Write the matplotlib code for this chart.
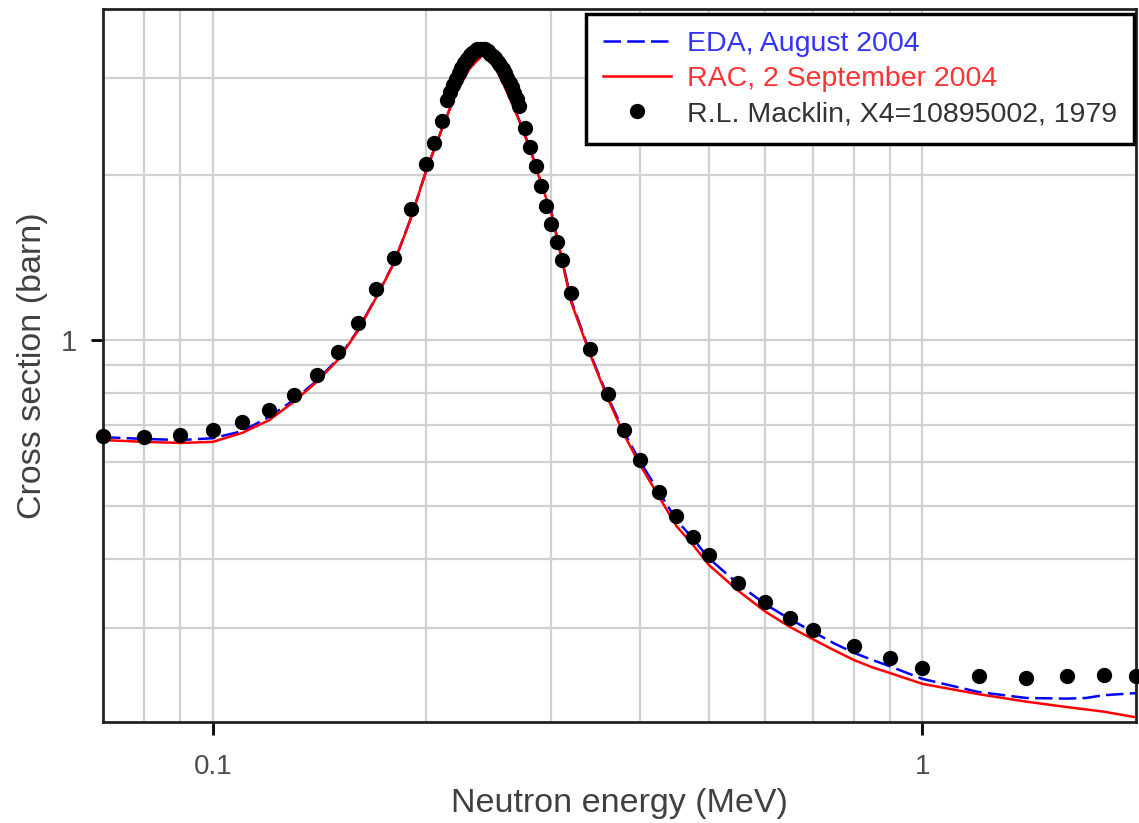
import matplotlib
matplotlib.use("Agg")
import matplotlib.pyplot as plt
from matplotlib.ticker import LogLocator, FixedLocator, NullFormatter, FixedFormatter

plt.rcParams['font.family'] = ['Liberation Sans', 'DejaVu Sans']

# R.L. Macklin data points (MeV, barn)
exp_e = [0.07, 0.08, 0.09, 0.10, 0.11, 0.12, 0.13, 0.14, 0.15, 0.16, 0.17, 0.18,
         0.19, 0.20, 0.205, 0.21,
         0.214, 0.216, 0.218, 0.220, 0.222, 0.224, 0.226, 0.228, 0.230, 0.232,
         0.234, 0.236, 0.238, 0.240, 0.242, 0.244, 0.246, 0.248, 0.250, 0.252,
         0.254, 0.256, 0.258, 0.260, 0.262, 0.264, 0.266, 0.268, 0.270,
         0.2755, 0.280, 0.2855, 0.290, 0.295, 0.300, 0.305, 0.310, 0.320, 0.340,
         0.360, 0.380, 0.400, 0.425, 0.450, 0.475, 0.500, 0.550, 0.600, 0.650,
         0.700, 0.800, 0.900, 1.00, 1.20, 1.40, 1.60, 1.80, 2.00]
exp_xs = [0.669, 0.665, 0.671, 0.686, 0.709, 0.746, 0.794, 0.864, 0.952, 1.072, 1.236, 1.411,
          1.728, 2.087, 2.279, 2.502,
          2.73, 2.83, 2.91, 2.99, 3.06, 3.13, 3.19, 3.25, 3.30, 3.33,
          3.36, 3.38, 3.39, 3.39, 3.38, 3.35, 3.32, 3.29, 3.26, 3.21,
          3.16, 3.11, 3.06, 3.00, 2.94, 2.88, 2.81, 2.74, 2.66,
          2.43, 2.246, 2.072, 1.905, 1.755, 1.623, 1.505, 1.398, 1.219, 0.963,
          0.797, 0.686, 0.605, 0.530, 0.479, 0.439, 0.4065, 0.362, 0.334, 0.3127,
          0.297, 0.278, 0.2646, 0.253, 0.245, 0.2426, 0.245, 0.246, 0.245]

# RAC, 2 September 2004
rac_e = [0.07, 0.08, 0.09, 0.10, 0.11, 0.12, 0.13, 0.14, 0.15, 0.16, 0.17, 0.18, 0.19,
         0.20, 0.21, 0.22, 0.23, 0.24, 0.25, 0.26, 0.27, 0.28, 0.29, 0.30, 0.32,
         0.34, 0.36, 0.38, 0.40, 0.45, 0.475, 0.50, 0.55, 0.60, 0.65, 0.70, 0.75,
         0.80, 0.85, 0.90, 1.00, 1.20, 1.40, 1.60, 1.80, 2.00]
rac_xs = [0.658, 0.653, 0.650, 0.653, 0.678, 0.715, 0.772, 0.839, 0.920, 1.038, 1.197, 1.380, 1.660,
          2.04, 2.41, 2.81, 3.12, 3.30, 3.14, 2.82, 2.51, 2.22, 1.93, 1.70, 1.17,
          0.943, 0.784, 0.672, 0.593, 0.459, 0.424, 0.390, 0.350, 0.321, 0.301, 0.286, 0.273,
          0.262, 0.254, 0.248, 0.237, 0.227, 0.220, 0.215, 0.211, 0.206]

# EDA, August 2004
eda_e = [0.07, 0.08, 0.09, 0.10, 0.11, 0.12, 0.13, 0.14, 0.15, 0.16, 0.17, 0.18, 0.19,
         0.20, 0.21, 0.22, 0.23, 0.24, 0.25, 0.26, 0.27, 0.28, 0.29, 0.30, 0.32,
         0.34, 0.36, 0.38, 0.40, 0.45, 0.475, 0.50, 0.55, 0.60, 0.65, 0.70, 0.75,
         0.80, 0.85, 0.90, 1.00, 1.20, 1.40, 1.60, 1.70, 1.80, 2.00]
eda_xs = [0.666, 0.661, 0.658, 0.663, 0.683, 0.725, 0.778, 0.843, 0.924, 1.041, 1.200, 1.383, 1.663,
          2.04, 2.41, 2.81, 3.12, 3.30, 3.14, 2.83, 2.52, 2.23, 1.94, 1.71, 1.18,
          0.948, 0.790, 0.679, 0.601, 0.471, 0.435, 0.401, 0.360, 0.331, 0.311, 0.295, 0.281,
          0.270, 0.262, 0.255, 0.242, 0.229, 0.2234, 0.2228, 0.2234, 0.226, 0.228]

labels = ["EDA, August 2004", "RAC, 2 September 2004", "R.L. Macklin, X4=10895002, 1979"]

fig = plt.figure(figsize=(11.39, 8.23), dpi=100)
ax = fig.add_axes([0.0904, 0.1227, 0.9070, 0.8663])

ax.plot(eda_e, eda_xs, color='#0000ff', lw=1.8, dashes=(7, 2.5), label=labels[0], zorder=3)
ax.plot(rac_e, rac_xs, color='#ff0000', lw=1.8, label=labels[1], zorder=4)
ax.plot(exp_e, exp_xs, 'o', color='black', ms=10, label=labels[2], zorder=5, clip_on=False)

ax.set_xscale('log')
ax.set_yscale('log')
ax.set_xlim(0.07, 2.0)
ax.set_ylim(0.202, 4.0)

ax.xaxis.set_major_locator(FixedLocator([0.1, 1]))
ax.xaxis.set_major_formatter(FixedFormatter(['0.1', '1']))
ax.xaxis.set_minor_locator(LogLocator(base=10, subs=range(2, 10)))
ax.xaxis.set_minor_formatter(NullFormatter())
ax.yaxis.set_major_locator(FixedLocator([1]))
ax.yaxis.set_major_formatter(FixedFormatter(['1']))
ax.yaxis.set_minor_locator(LogLocator(base=10, subs=range(2, 10)))
ax.yaxis.set_minor_formatter(NullFormatter())

ax.grid(True, which='both', color='#d0d0d0', lw=1.6)
ax.set_axisbelow(True)
ax.tick_params(axis='x', which='major', direction='out', length=9, width=2, colors='black',
               labelsize=20, labelcolor='#4d4d4d', pad=14)
ax.tick_params(axis='y', which='major', direction='out', length=9, width=2, colors='black',
               labelsize=21, labelcolor='#4d4d4d', pad=10)
ax.tick_params(which='minor', length=0)
for s in ax.spines.values():
    s.set_linewidth(2)
    s.set_color('#222222')

ax.set_xlabel("Neutron energy (MeV)", fontsize=24.5, color='#404040', labelpad=6)
ax.set_ylabel("Cross section (barn)", fontsize=24.5, color='#404040', labelpad=9)

leg = ax.legend(loc='upper right', bbox_to_anchor=(0.998, 0.993), borderaxespad=0,
                fontsize=20.5, fancybox=False, framealpha=1, edgecolor='black',
                handlelength=2.4, handletextpad=0.55, labelspacing=0.32, borderpad=0.6,
                markerscale=1.0, labelcolor=['#3333ff', '#ff3333', '#333333'])
leg.get_frame().set_linewidth(2.5)
leg.set_zorder(10)

fig.savefig('out.png', dpi=100)
